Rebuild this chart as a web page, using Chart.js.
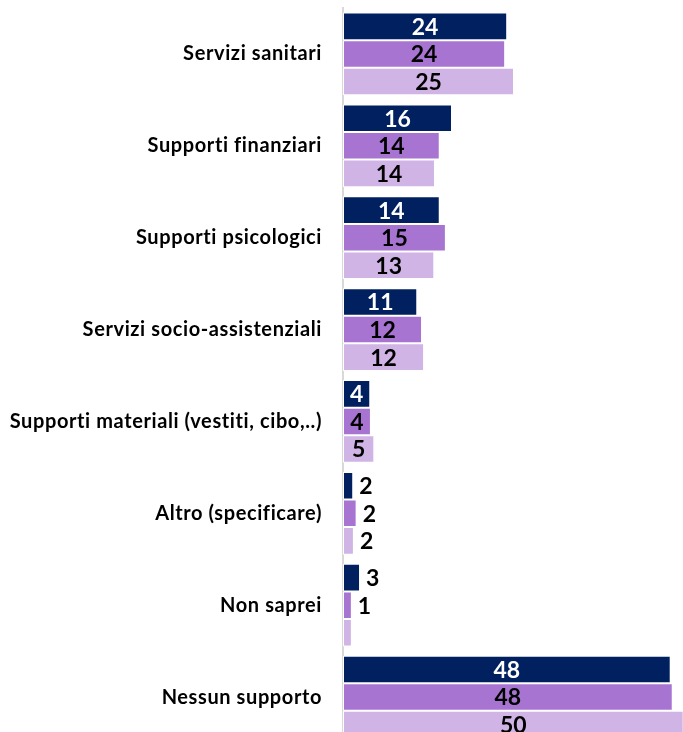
<!DOCTYPE html>
<html>
<head>
<meta charset="utf-8">
<script src="https://cdn.jsdelivr.net/npm/chart.js@4/dist/chart.umd.min.js"></script>
<style>
  body { margin: 0; background: #fff; overflow: hidden; }
  #wrap { position: absolute; left: 0; top: 0; width: 700px; height: 745px; }
</style>
</head>
<body>
<div id="wrap"><canvas id="myChart"></canvas></div>
<script>
// categories and series values
let categories = [
    "Servizi sanitari",
    "Supporti finanziari",
    "Supporti psicologici",
    "Servizi socio-assistenziali",
    "Supporti materiali (vestiti, cibo,..)",
    "Altro (specificare)",
    "Non saprei",
    "Nessun supporto"
];
let serie1 = [24.1, 16.0, 14.2, 10.9, 4.0, 1.5, 2.5, 48.1];
let serie2 = [23.8, 14.2, 15.1, 11.6, 4.1, 2.0, 1.3, 48.4];
let serie3 = [25.1, 13.5, 13.4, 11.9, 4.6, 1.6, 1.3, 50.0];
// labels that are not shown in the picture: [dataset, index]
let hiddenLabels = [[2, 6]];

const navy = "#002060";
const purple = "#A874D1";
const lavender = "#D1B4E6";

// no ligatures (Lato has a "ti" ligature the original font does not)
const noLigatures = {
    id: "noLigatures",
    beforeDraw(chart) {
        chart.ctx.letterSpacing = "0.6px";
    }
};

// Utility: draw value labels (no datalabels plugin available offline)
const valueLabels = {
    id: "valueLabels",
    afterDatasetsDraw(chart) {
        const ctx = chart.ctx;
        ctx.save();
        ctx.font = "bold 23px Lato";
        ctx.letterSpacing = "0px";
        ctx.textBaseline = "middle";
        chart.data.datasets.forEach(function (ds, d) {
            const meta = chart.getDatasetMeta(d);
            meta.data.forEach(function (bar, i) {
                if (hiddenLabels.some(h => h[0] === d && h[1] === i)) return;
                const v = ds.data[i];
                const txt = Math.round(v).toString();
                if (v >= 4) {
                    ctx.textAlign = "center";
                    ctx.fillStyle = d === 0 ? "#ffffff" : "#000000";
                    ctx.fillText(txt, (bar.x + bar.base) / 2, bar.y + 1);
                } else {
                    ctx.textAlign = "left";
                    ctx.fillStyle = "#000000";
                    ctx.fillText(txt, bar.x + 6, bar.y + 1);
                }
            });
        });
        ctx.restore();
    }
};

var ctx = document.getElementById("myChart");

var myChart = new Chart(ctx, {
    type: "bar",
    data: {
        labels: categories,
        datasets: [
            { label: "Serie 1", data: serie1, backgroundColor: navy },
            { label: "Serie 2", data: serie2, backgroundColor: purple },
            { label: "Serie 3", data: serie3, backgroundColor: lavender }
        ]
    },
    options: {
        indexAxis: "y",
        responsive: true,
        maintainAspectRatio: false,
        animation: false,
        layout: { padding: { top: 8, bottom: 2, left: 0, right: 0 } },
        datasets: {
            bar: {
                categoryPercentage: 0.9,
                barPercentage: 1.0,
                borderColor: "#ffffff",
                borderWidth: 1,
                borderSkipped: false
            }
        },
        scales: {
            x: {
                display: false,
                min: 0,
                max: 52.4
            },
            y: {
                afterFit: function (scale) {
                    scale.width = 343;
                    scale.paddingTop = 0;
                    scale.paddingBottom = 0;
                },
                grid: { display: false, drawTicks: false },
                border: { display: true, color: "#d9d9d9", width: 2 },
                ticks: {
                    padding: 21,
                    color: "#000000",
                    font: { family: "Lato", size: 20, weight: "bold" }
                }
            }
        },
        plugins: {
            legend: { display: false },
            tooltip: { enabled: false }
        }
    },
    plugins: [noLigatures, valueLabels]
});
</script>
</body>
</html>
